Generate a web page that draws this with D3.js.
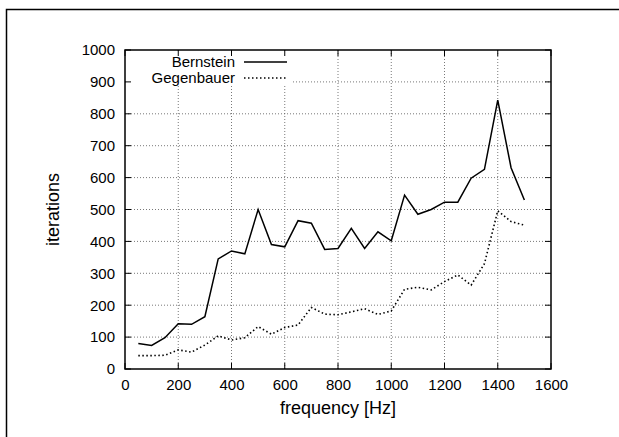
<!DOCTYPE html>
<html><head><meta charset="utf-8">
<script src="https://cdn.jsdelivr.net/npm/d3@7"></script>
<style>body{margin:0;background:#fff}svg{display:block}text{font-family:"Liberation Sans",Arial,sans-serif;fill:#000}</style>
</head><body><svg id="c" width="619" height="437"></svg>
<script>
const freq = [50,100,150,200,250,300,350,400,450,500,550,600,650,700,750,800,850,900,950,1000,1050,1100,1150,1200,1250,1300,1350,1400,1450,1500];
const bernstein = [80,74,98,142,140,164,345,370,361,500,390,383,465,457,375,378,441,378,430,402,545,485,500,523,523,598,626,843,631,530];
const gegenbauer = [42,42,43,60,53,75,104,91,98,133,109,130,138,193,172,170,179,189,171,182,250,256,248,274,295,263,330,496,462,451];
const xTicks = [0,200,400,600,800,1000,1200,1400,1600];
const yTicks = [0,100,200,300,400,500,600,700,800,900,1000];
const seriesNames = ["Bernstein","Gegenbauer"];

const svg = d3.select("#c");
const L=125,R=551,T=50,B=369;
const x = d3.scaleLinear().domain([0,1600]).range([L,R]);
const y = d3.scaleLinear().domain([0,1000]).range([B,T]);

// outer frame
svg.append("path").attr("d",`M6.5,437 V9.5 H619`).attr("fill","none").attr("stroke","#000").attr("stroke-width",1.5);

// grid
const g = svg.append("g");
g.selectAll("line.gx").data(xTicks.slice(1,-1)).join("line")
 .attr("x1",d=>x(d)).attr("x2",d=>x(d)).attr("y1",T).attr("y2",B)
 .attr("stroke","#555").attr("stroke-width",0.8).attr("stroke-dasharray","1,2");
g.selectAll("line.gy").data(yTicks.slice(1,-1)).join("line")
 .attr("y1",d=>y(d)).attr("y2",d=>y(d)).attr("x1",L).attr("x2",R)
 .attr("stroke","#555").attr("stroke-width",0.8).attr("stroke-dasharray","1,2");

// legend background
svg.append("rect").attr("x",127).attr("y",51).attr("width",166).attr("height",34).attr("fill","#fff");

// ticks
const tk = svg.append("g").attr("stroke","#000").attr("stroke-width",1);
xTicks.forEach(d=>{
  tk.append("line").attr("x1",x(d)).attr("x2",x(d)).attr("y1",B).attr("y2",B-6);
  tk.append("line").attr("x1",x(d)).attr("x2",x(d)).attr("y1",T).attr("y2",T+6);
});
yTicks.forEach(d=>{
  tk.append("line").attr("x1",L).attr("x2",L+6).attr("y1",y(d)).attr("y2",y(d));
  tk.append("line").attr("x1",R).attr("x2",R-6).attr("y1",y(d)).attr("y2",y(d));
});

// axes via d3 for labels
const fmt = d3.format("d");
const xAxis = svg.append("g").attr("transform",`translate(0,${B})`)
 .call(d3.axisBottom(x).tickValues(xTicks).tickFormat(fmt).tickSize(0).tickPadding(10));
const yAxis = svg.append("g").attr("transform",`translate(${L},0)`)
 .call(d3.axisLeft(y).tickValues(yTicks).tickFormat(fmt).tickSize(0).tickPadding(10));
[xAxis,yAxis].forEach(a=>{a.select(".domain").remove();a.selectAll("text").attr("font-size",15).attr("font-family","Liberation Sans, Arial, sans-serif");});

// plot border
svg.append("rect").attr("x",L).attr("y",T).attr("width",R-L).attr("height",B-T)
 .attr("fill","none").attr("stroke","#000").attr("stroke-width",1.5);

// lines
const line = d3.line().x((d,i)=>x(freq[i])).y(d=>y(d));
svg.append("path").datum(bernstein).attr("d",line).attr("fill","none").attr("stroke","#000").attr("stroke-width",1.5);
svg.append("path").datum(gegenbauer).attr("d",line).attr("fill","none").attr("stroke","#000").attr("stroke-width",1.6).attr("stroke-dasharray","1.5,2.5");

// legend
const leg = svg.append("g");
const styles=[{w:1.5,da:null},{w:1.6,da:"1.5,2.5"}];
seriesNames.forEach((n,i)=>{
  const yy = 62+i*16;
  leg.append("text").attr("x",235).attr("y",yy+5).attr("text-anchor","end").attr("font-size",15).text(n);
  const l=leg.append("line").attr("x1",244).attr("x2",287).attr("y1",yy).attr("y2",yy).attr("stroke","#000").attr("stroke-width",styles[i].w);
  if(styles[i].da) l.attr("stroke-dasharray",styles[i].da);
});

// axis titles
svg.append("text").attr("x",(L+R)/2).attr("y",414).attr("text-anchor","middle").attr("font-size",18).text("frequency [Hz]");
svg.append("text").attr("transform",`translate(59,${(T+B)/2}) rotate(-90)`).attr("text-anchor","middle").attr("font-size",18).text("iterations");
</script></body></html>
